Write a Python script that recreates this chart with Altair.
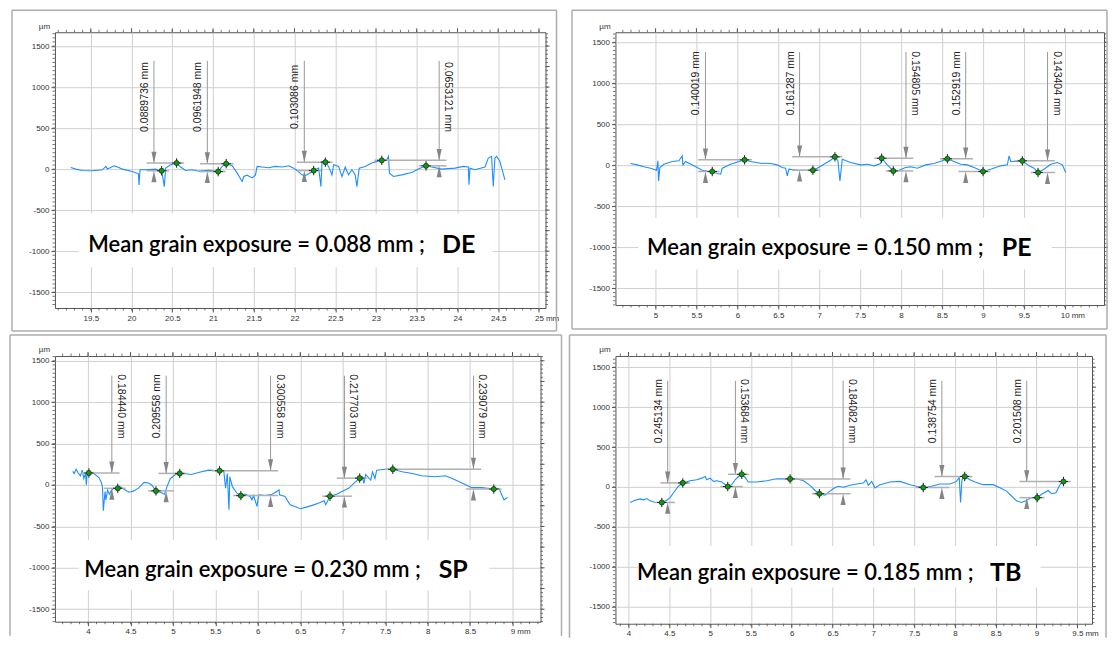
import altair as alt
import numpy as np
import pandas as pd

# ---------------- DE (top-left) ----------------
de_x = [19.255, 19.316, 19.398, 19.52, 19.643, 19.684, 19.704, 19.786, 19.827, 19.888,
        20.01, 20.084, 20.092, 20.104, 20.173, 20.296, 20.337, 20.369, 20.402, 20.418,
        20.48, 20.553, 20.602, 20.663, 20.745, 20.827, 20.949, 21.063, 21.112, 21.161,
        21.235, 21.296, 21.357, 21.378, 21.418, 21.48, 21.52, 21.541, 21.602, 21.684,
        21.765, 21.847, 21.929, 21.99, 22.031, 22.092, 22.124, 22.173, 22.235, 22.296,
        22.324, 22.337, 22.378, 22.418, 22.459, 22.48, 22.541, 22.582, 22.622, 22.663,
        22.704, 22.745, 22.765, 22.794, 22.867, 22.949, 23.01, 23.071, 23.133, 23.153,
        23.165, 23.214, 23.316, 23.439, 23.52, 23.614, 23.684, 23.806, 23.969, 24.071,
        24.133, 24.141, 24.153, 24.214, 24.337, 24.378, 24.418, 24.439, 24.459, 24.48,
        24.52, 24.582]
de_y = [20, 0, -16, -20, -8, 33, 0, 41, 25, 0,
        -29, -57, -193, -8, -8, 0, -16, -20, -213, 12,
        53, 74, 25, -16, -8, -25, -16, -30, 33, 66,
        41, -49, -150, -90, -74, -107, -74, 33, 25, 16,
        33, 25, 41, 12, -16, -70, -82, -57, -18, 12,
        -213, 94, 85, 33, -70, 53, 33, -90, 25, -70,
        -8, -70, -213, 12, 33, 74, 94, 107, 115, 156,
        -49, -90, -70, -41, 0, 40, 25, 0, 12, 33,
        25, -190, 12, -8, 25, 135, 156, -213, 135, 156,
        94, -131]
de_line_x = [20.275, 20.93, 22.12, 23.775]
de_up_x = [20.553, 21.161, 22.378, 23.071]
de_up_y = [74, 66, 85, 107]
de_lo_x = [20.369, 21.063, 22.235, 23.614]
de_lo_y = [-20, -30, -18, 40]
de_labels = ["0.0889736 mm", "0.0961948 mm", "0.103086 mm", "0.0653121 mm"]
de_angles = [270, 270, 270, 90]

# ---------------- PE (top-right) ----------------
pe_x = [4.694, 4.776, 4.857, 4.939, 5.012, 5.029, 5.037, 5.053, 5.102, 5.204,
        5.285, 5.326, 5.334, 5.367, 5.469, 5.570, 5.652, 5.693, 5.754, 5.795,
        5.815, 5.917, 6.019, 6.088, 6.161, 6.284, 6.406, 6.487, 6.548, 6.589,
        6.610, 6.630, 6.732, 6.834, 6.923, 6.976, 7.058, 7.139, 7.192, 7.229,
        7.253, 7.282, 7.384, 7.506, 7.588, 7.669, 7.751, 7.763, 7.832, 7.905,
        7.975, 8.056, 8.117, 8.199, 8.301, 8.403, 8.504, 8.566, 8.647, 8.729,
        8.810, 8.892, 9.002, 9.095, 9.218, 9.299, 9.320, 9.340, 9.482, 9.564,
        9.625, 9.674, 9.747, 9.829, 9.910, 9.971, 10.012]
pe_y = [22, 6, -18, -35, -59, 55, -189, -26, 14, 47,
        55, 116, 6, 47, -6, -59, -75, -75, -100, -108,
        -35, 14, 47, 67, 47, 26, 22, 6, -26, -35,
        -128, -47, -59, -59, -59, -35, 14, 63, 104, 55,
        -189, 75, 35, 6, 14, -6, 22, 87, 6, -68,
        -59, -26, -18, -35, 6, 22, 55, 80, 47, 14,
        6, -26, -75, -47, -6, 6, 116, 47, 55, -6,
        -35, -87, -47, 14, 35, 6, -87]
pe_line_x = [5.61, 6.76, 8.06, 8.79, 9.79]
pe_up_x = [6.088, 7.192, 7.763, 8.566, 9.482]
pe_up_y = [67, 104, 87, 80, 55]
pe_lo_x = [5.693, 6.923, 7.905, 9.002, 9.674]
pe_lo_y = [-75, -59, -68, -75, -87]
pe_labels = ["0.140019 mm", "0.161287 mm", "0.154805 mm", "0.152919 mm", "0.143404 mm"]
pe_angles = [270, 270, 90, 270, 90]

# ---------------- SP (bottom-left) ----------------
sp_x = [3.82, 3.835, 3.86, 3.88, 3.91, 3.93, 3.95, 3.97, 3.98, 3.99,
        4.01, 4.07, 4.13, 4.16, 4.17, 4.18, 4.20, 4.21, 4.23, 4.25,
        4.27, 4.30, 4.35, 4.38, 4.42, 4.48, 4.54, 4.60, 4.66, 4.71,
        4.75, 4.80, 4.85, 4.90, 4.93, 4.97, 5.03, 5.08, 5.15, 5.22,
        5.30, 5.42, 5.55, 5.60, 5.62, 5.64, 5.66, 5.67, 5.70, 5.755,
        5.80, 5.85, 5.91, 5.93, 5.95, 5.99, 6.01, 6.09, 6.17, 6.25,
        6.255, 6.32, 6.38, 6.46, 6.50, 6.56, 6.64, 6.72, 6.78, 6.80,
        6.85, 6.93, 6.99, 7.07, 7.13, 7.20, 7.23, 7.25, 7.27, 7.33,
        7.35, 7.38, 7.40, 7.50, 7.59, 7.70, 7.82, 7.93, 8.09, 8.21,
        8.29, 8.41, 8.52, 8.64, 8.78, 8.84, 8.87, 8.90, 8.94]
sp_y = [167, 139, 191, 151, 111, 179, 79, 139, 0, 167,
        145, 139, 87, 20, -32, -310, -79, -179, -60, -111,
        -71, -40, -40, -24, -48, -87, -71, -32, 32, 24,
        0, -71, -87, -111, -20, 79, 127, 140, 135, 127,
        151, 179, 172, 159, -40, 139, -298, 99, -20, -99,
        -128, -111, -139, -179, -127, -258, -119, -127, -111, -60,
        -119, -139, -238, -270, -286, -270, -246, -218, -190, -238,
        -135, -111, -79, -40, 20, 83, 99, 20, 127, 60,
        159, 79, 179, 191, 190, 159, 139, 111, 99, 111,
        79, 20, -32, -32, -49, -40, -111, -179, -151]
sp_line_x = [4.28, 4.92, 6.15, 7.02, 8.54]
sp_up_x = [4.01, 5.08, 5.55, 7.20, 7.59]
sp_up_y = [145, 140, 172, 83, 190]
sp_lo_x = [4.35, 4.80, 5.80, 6.85, 8.78]
sp_lo_y = [-40, -71, -128, -135, -49]
sp_labels = ["0.184440 mm", "0.209558 mm", "0.300558 mm", "0.217703 mm", "0.239079 mm"]
sp_angles = [90, 270, 90, 90, 90]

# ---------------- TB (bottom-right) ----------------
tb_x = [4.02, 4.08, 4.143, 4.184, 4.224, 4.265, 4.327, 4.408, 4.469, 4.51,
        4.551, 4.612, 4.665, 4.755, 4.837, 4.898, 4.939, 4.959, 5.0, 5.041,
        5.082, 5.143, 5.184, 5.216, 5.265, 5.306, 5.347, 5.388, 5.429, 5.469,
        5.571, 5.694, 5.816, 5.98, 6.061, 6.143, 6.224, 6.286, 6.339, 6.408,
        6.469, 6.51, 6.571, 6.633, 6.714, 6.796, 6.878, 6.91, 6.939, 6.98,
        7.02, 7.082, 7.204, 7.327, 7.449, 7.531, 7.612, 7.714, 7.816, 7.939,
        8.02, 8.053, 8.069, 8.086, 8.12, 8.184, 8.245, 8.347, 8.469, 8.551,
        8.633, 8.694, 8.755, 8.816, 8.869, 8.939, 9.008, 9.061, 9.143, 9.184,
        9.237, 9.278, 9.294, 9.33]
tb_y = [-195, -167, -150, -162, -146, -175, -195, -195, -167, -134,
        -73, 8, 50, 77, 89, 110, 130, 89, 110, 69,
        77, 61, 28, 4, 28, 89, 130, 158, 118, 61,
        61, 77, 102, 100, 102, 77, 20, -45, -85, -102,
        -53, -20, 8, -4, 20, 37, 49, 89, 20, 69,
        -12, 28, 61, 69, 28, 8, -8, 8, 37, 37,
        69, 118, -195, 89, 131, 89, 61, 28, 28, -12,
        -53, -114, -175, -195, -175, -134, -135, -93, -45, -85,
        -73, 8, 37, 67]
tb_line_x = [4.48, 5.31, 6.63, 7.84, 8.88]
tb_up_x = [4.665, 5.388, 5.98, 8.12, 9.33]
tb_up_y = [50, 158, 100, 131, 67]
tb_lo_x = [4.408, 5.216, 6.339, 7.612, 9.008]
tb_lo_y = [-195, 4, -85, -8, -135]
tb_labels = ["0.245134 mm", "0.153684 mm", "0.184082 mm", "0.138754 mm", "0.201508 mm"]
tb_angles = [270, 90, 90, 270, 270]

mean_texts = ["Mean grain exposure = 0.088 mm ;", "Mean grain exposure = 0.150 mm ;",
              "Mean grain exposure = 0.230 mm ;", "Mean grain exposure = 0.185 mm ;"]
tags = ["DE", "PE", "SP", "TB"]

# ---------------- style ----------------
GRID = "#d0d0d0"
TICK = "#555555"
LAB = "#333333"
BLUE = "#1e8fff"
GREEN = "#0a9f0a"
REFC = "#b0b0b0"
ARROW = "#858585"
VLINE = "#999999"
FRAME = "#adadad"
AXF = "Liberation Sans"
MAINF = "Lato"


def steps(lo, hi, step):
    k0 = int(np.ceil(lo / step - 1e-9))
    k1 = int(np.floor(hi / step + 1e-9))
    return [round(k * step, 4) for k in range(k0, k1 + 1)]


def text_w(s):
    return sum(4.45 if ch.isdigit() else 2.22 for ch in s)


def one():
    return pd.DataFrame({"z": [0]})


def panel(P):
    xdom, ydom, w, h = P["xdom"], P["ydom"], P["w"], P["h"]
    xs = alt.Scale(domain=xdom, nice=False, zero=False)
    ys = alt.Scale(domain=ydom, nice=False, zero=False)
    xmaj = [v for v in steps(xdom[0], xdom[1], 0.5) if v > xdom[0] + 0.05]
    ymaj = steps(-1500, 1500, 250)
    xmin = steps(xdom[0], xdom[1], 0.1)
    ymin = steps(ydom[0], ydom[1], 50)
    last = xmaj[-1]
    lab = ("%g" % last)
    mm_x = (last - xdom[0]) / (xdom[1] - xdom[0]) * w + text_w(lab) / 2 + 2

    def X(f, **kw):
        return alt.X(f, scale=xs, **kw)

    def Y(f, **kw):
        return alt.Y(f, scale=ys, **kw)

    xaxis = alt.Axis(values=xmaj, labelExpr="'' + datum.value", grid=True, gridColor=GRID,
                     gridWidth=1, domain=False, tickColor=TICK, tickSize=4, labelFont=AXF,
                     labelFontSize=8, labelColor=LAB, labelPadding=2, labelOverlap=False,
                     labelFlush=False, title="mm", titleFont=AXF, titleFontSize=8,
                     titleFontWeight="normal", titleColor=LAB, titleX=mm_x, titleY=6,
                     titleAlign="left", titleBaseline="top")
    yaxis = alt.Axis(values=ymaj, labelExpr="'' + datum.value", grid=True, gridColor=GRID,
                     gridWidth=1, domain=False, tickColor=TICK, tickSize=4, labelFont=AXF,
                     labelFontSize=8, labelColor=LAB, labelPadding=2, labelOverlap=False,
                     labelFlush=False, title="µm", titleFont=AXF, titleFontSize=8,
                     titleFontWeight="normal", titleColor=LAB, titleAngle=0, titleX=-11,
                     titleY=-6, titleAlign="center", titleBaseline="middle")

    bx = P["box"]
    box = alt.Chart(pd.DataFrame({"x": [bx[0]], "x2": [bx[1]], "y": [bx[2]], "y2": [bx[3]]})).mark_rect(
        color="white").encode(x=X("x:Q", axis=xaxis), x2="x2:Q", y=Y("y:Q", axis=yaxis), y2="y2:Q")

    layers = [box]

    # minor / outer ticks
    layers.append(alt.Chart(pd.DataFrame({"y": ymin})).mark_rule(color=TICK, strokeWidth=0.8).encode(
        y=Y("y:Q"), x=alt.value(-2.5), x2=alt.value(0)))
    layers.append(alt.Chart(pd.DataFrame({"y": ymin})).mark_rule(color=TICK, strokeWidth=0.8).encode(
        y=Y("y:Q"), x=alt.value(w), x2=alt.value(w + 2.5)))
    layers.append(alt.Chart(pd.DataFrame({"y": ymaj})).mark_rule(color=TICK, strokeWidth=1).encode(
        y=Y("y:Q"), x=alt.value(w), x2=alt.value(w + 4)))
    layers.append(alt.Chart(pd.DataFrame({"x": xmin})).mark_rule(color=TICK, strokeWidth=0.8).encode(
        x=X("x:Q"), y=alt.value(-2.5), y2=alt.value(0)))
    layers.append(alt.Chart(pd.DataFrame({"x": xmaj})).mark_rule(color=TICK, strokeWidth=1).encode(
        x=X("x:Q"), y=alt.value(-4), y2=alt.value(0)))
    layers.append(alt.Chart(pd.DataFrame({"x": xmin})).mark_rule(color=TICK, strokeWidth=0.8).encode(
        x=X("x:Q"), y=alt.value(h), y2=alt.value(h + 2.5)))

    # profile
    layers.append(alt.Chart(pd.DataFrame({"x": P["px"], "y": P["py"]})).mark_line(
        color=BLUE, strokeWidth=1.1).encode(x=X("x:Q"), y=Y("y:Q"), order="x:Q"))

    n = len(P["lx"])
    m = pd.DataFrame({"x": P["lx"], "top": [P["top"]] * n, "uy": P["uy"], "ly": P["ly"]})
    layers.append(alt.Chart(m).mark_rule(color=VLINE, strokeWidth=1).encode(
        x=X("x:Q"), y=Y("top:Q"), y2="uy:Q"))

    hx0, hx1, hy = [], [], []
    for i in range(n):
        for px_, py_ in ((P["ux"][i], P["uy"][i]), (P["lpx"][i], P["ly"][i])):
            hx0.append(min(px_, P["lx"][i]) - 0.09)
            hx1.append(max(px_, P["lx"][i]) + 0.09)
            hy.append(py_)
    layers.append(alt.Chart(pd.DataFrame({"x": hx0, "x2": hx1, "y": hy})).mark_rule(
        color=REFC, strokeWidth=1.5).encode(x=X("x:Q"), x2="x2:Q", y=Y("y:Q")))

    layers.append(alt.Chart(m).mark_point(shape="M-0.45,-2L0.45,-2L0,0Z", filled=True, color=ARROW,
                                          size=130, opacity=1).encode(x=X("x:Q"), y=Y("uy:Q")))
    layers.append(alt.Chart(m).mark_point(shape="M-0.45,2L0.45,2L0,0Z", filled=True, color=ARROW,
                                          size=130, opacity=1).encode(x=X("x:Q"), y=Y("ly:Q")))

    pts = pd.DataFrame({"x": list(P["ux"]) + list(P["lpx"]), "y": list(P["uy"]) + list(P["ly"])})
    layers.append(alt.Chart(pts).mark_point(shape="M-1,0L1,0M0,-1L0,1", filled=False, color="#1e1e1e",
                                            size=88, strokeWidth=1, opacity=1).encode(
        x=X("x:Q"), y=Y("y:Q")))
    layers.append(alt.Chart(pts).mark_circle(size=26, color=GREEN, opacity=1, stroke="#1b1b1b",
                                             strokeWidth=0.7).encode(x=X("x:Q"), y=Y("y:Q")))

    labs = pd.DataFrame({"x": P["lx"], "y": [P["mid"]] * n, "t": P["labels"], "a": P["angles"]})
    layers.append(alt.Chart(labs).mark_text(baseline="bottom", align="center", dy=-4, fontSize=10.5,
                                            font=AXF, color="#222222").encode(
        x=X("x:Q"), y=Y("y:Q"), text="t:N", angle=alt.Angle("a:Q", scale=None)))

    layers.append(alt.Chart(pd.DataFrame({"x": [P["main_x"]], "y": [P["ty"]], "t": [P["mean"]]})).mark_text(
        align="right", baseline="middle", font=MAINF, fontSize=22, fontWeight=600, color="black").encode(
        x=X("x:Q"), y=Y("y:Q"), text="t:N"))
    layers.append(alt.Chart(pd.DataFrame({"x": [P["tag_x"]], "y": [P["ty"]], "t": [P["tag"]]})).mark_text(
        align="left", baseline="middle", font=MAINF, fontSize=25, fontWeight="bold", color="black").encode(
        x=X("x:Q"), y=Y("y:Q"), text="t:N"))

    fl, ft, fr, fb, bottom = P["frame"]
    fc = dict(color=FRAME, strokeWidth=1.5)
    layers.append(alt.Chart(one()).mark_rule(**fc).encode(x=alt.value(fl), y=alt.value(ft), y2=alt.value(fb)))
    layers.append(alt.Chart(one()).mark_rule(**fc).encode(x=alt.value(fr), y=alt.value(ft), y2=alt.value(fb)))
    layers.append(alt.Chart(one()).mark_rule(**fc).encode(y=alt.value(ft), x=alt.value(fl), x2=alt.value(fr)))
    if bottom:
        layers.append(alt.Chart(one()).mark_rule(**fc).encode(y=alt.value(fb), x=alt.value(fl), x2=alt.value(fr)))

    return alt.layer(*layers).properties(width=w, height=h)


tl = panel(dict(px=de_x, py=de_y, lx=de_line_x, ux=de_up_x, uy=de_up_y, lpx=de_lo_x, ly=de_lo_y,
                labels=de_labels, angles=de_angles, xdom=[19.06, 25.08], ydom=[-1693, 1668],
                w=491, h=276, top=1320, mid=880, box=[19.35, 24.43, -541, -1197],
                main_x=23.60, tag_x=23.81, ty=-930, mean=mean_texts[0], tag=tags[0],
                frame=(-43, -22, 491 + 11, 276 + 23, True)))
tr = panel(dict(px=pe_x, py=pe_y, lx=pe_line_x, ux=pe_up_x, uy=pe_up_y, lpx=pe_lo_x, ly=pe_lo_y,
                labels=pe_labels, angles=pe_angles, xdom=[4.51, 10.48], ydom=[-1702, 1622],
                w=489, h=273, top=1380, mid=1000, box=[4.79, 9.84, -638, -1268],
                main_x=9.01, tag_x=9.23, ty=-1012, mean=mean_texts[1], tag=tags[1],
                frame=(-43.5, -22, 489 + 3, 273 + 24, True)))
bl = panel(dict(px=sp_x, py=sp_y, lx=sp_line_x, ux=sp_up_x, uy=sp_up_y, lpx=sp_lo_x, ly=sp_lo_y,
                labels=sp_labels, angles=sp_angles, xdom=[3.61, 9.33], ydom=[-1651, 1558],
                w=486, h=266, top=1320, mid=950, box=[3.887, 8.73, -664, -1270],
                main_x=7.92, tag_x=8.13, ty=-1023, mean=mean_texts[2], tag=tags[2],
                frame=(-45, -21, 486 + 21, 266 + 14, False)))
br = panel(dict(px=tb_x, py=tb_y, lx=tb_line_x, ux=tb_up_x, uy=tb_up_y, lpx=tb_lo_x, ly=tb_lo_y,
                labels=tb_labels, angles=tb_angles, xdom=[3.84, 9.68], ydom=[-1715, 1641],
                w=477, h=268, top=1330, mid=950, box=[4.115, 9.05, -740, -1260],
                main_x=8.23, tag_x=8.43, ty=-1077, mean=mean_texts[3], tag=tags[3],
                frame=(-46, -21, 477 + 14, 268 + 14, False)))

chart = alt.concat(tl, tr, bl, br, columns=2, bounds="flush",
                   spacing=alt.RowColnumber(row=48, column=70)).properties(
    padding=0, background="white").configure_view(stroke="#555555", strokeWidth=1)

chart.save("out.html", embed_options={"renderer": "svg", "actions": False})
